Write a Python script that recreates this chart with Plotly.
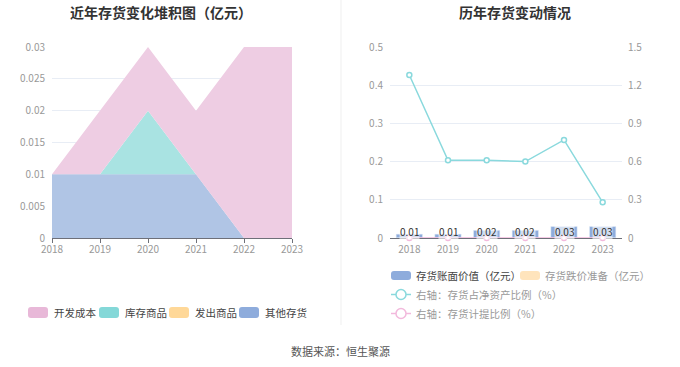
import plotly.graph_objects as go

W, H = 680, 367
years = ["2018", "2019", "2020", "2021", "2022", "2023"]

# Left: stacked inventory composition (亿元)
dev_cost = [0.0, 0.01, 0.01, 0.01, 0.03, 0.03]      # 开发成本
stock_goods = [0.0, 0.0, 0.01, 0.0, 0.0, 0.0]       # 库存商品
shipped_goods = [0.0, 0.0, 0.0, 0.0, 0.0, 0.0]      # 发出商品
other_inv = [0.01, 0.01, 0.01, 0.01, 0.0, 0.0]      # 其他存货

# Right: inventory changes
book_value = [0.01, 0.01, 0.02, 0.02, 0.03, 0.03]   # 存货账面价值（亿元）
impairment = [0, 0, 0, 0, 0, 0]                     # 存货跌价准备（亿元）
inv_ratio = [1.28, 0.61, 0.61, 0.60, 0.77, 0.28]    # 存货占净资产比例（%）
provision_ratio = [0, 0, 0, 0, 0, 0]                # 存货计提比例（%）
bar_labels = ["0.01", "0.01", "0.02", "0.02", "0.03", "0.03"]

left_names = ["开发成本", "库存商品", "发出商品", "其他存货"]
right_bar_names = ["存货账面价值（亿元）", "存货跌价准备（亿元）"]
right_line_names = ["右轴：存货占净资产比例（%）", "右轴：存货计提比例（%）"]

FONT = "Noto Sans CJK SC"
C_PINK, C_TEAL, C_ORANGE, C_BLUE = "#e8b8d8", "#84d8d8", "#ffd898", "#8eacdc"
FILL = {"开发成本": "#eecde3", "库存商品": "#a9e3e2", "发出商品": "#ffe4bc", "其他存货": "#b0c5e5"}
SWATCH = {"开发成本": C_PINK, "库存商品": C_TEAL, "发出商品": C_ORANGE, "其他存货": C_BLUE}
LINE_TEAL, LINE_PINK = "#8ad9dd", "#f2b9dc"

fig = go.Figure()

def px(x):
    return x / W

def py(y):
    return 1 - y / H

left_data = {"开发成本": dev_cost, "库存商品": stock_goods, "发出商品": shipped_goods, "其他存货": other_inv}
for name in ["其他存货", "库存商品", "发出商品", "开发成本"]:
    fig.add_trace(go.Scatter(
        x=years, y=left_data[name], name=name, stackgroup="one", mode="lines",
        line=dict(width=0, color=SWATCH[name]), fillcolor=FILL[name],
        xaxis="x", yaxis="y", showlegend=False,
    ))

fig.add_trace(go.Bar(
    x=years, y=book_value, name=right_bar_names[0], marker_color=C_BLUE,
    width=0.68, xaxis="x2", yaxis="y2", showlegend=False,
))
fig.add_trace(go.Bar(
    x=years, y=impairment, name=right_bar_names[1], marker_color="#ffe4bc",
    width=0.68, xaxis="x2", yaxis="y2", showlegend=False,
))
fig.add_trace(go.Scatter(
    x=years, y=inv_ratio, name=right_line_names[0], mode="lines+markers",
    line=dict(color=LINE_TEAL, width=1.5), cliponaxis=False,
    marker=dict(symbol="circle", size=5, color="white", line=dict(color=LINE_TEAL, width=1.5)),
    xaxis="x2", yaxis="y3", showlegend=False,
))
fig.add_trace(go.Scatter(
    x=years, y=provision_ratio, name=right_line_names[1], mode="lines+markers",
    line=dict(color=LINE_PINK, width=1.5), cliponaxis=False,
    marker=dict(symbol="circle", size=5, color="white", line=dict(color=LINE_PINK, width=1.5)),
    xaxis="x2", yaxis="y3", showlegend=False,
))

annotations = []
for i, lab in enumerate(bar_labels):
    annotations.append(dict(
        x=i, y=0.033, xref="x2", yref="y2 domain", text=lab, showarrow=False,
        xanchor="center", yanchor="middle", font=dict(size=10, color="#333", family=FONT),
        bgcolor="rgba(255,255,255,0.6)", borderpad=0,
    ))

def rrect(x0, y0, x1, y1, r=3):
    X0, X1 = px(x0), px(x1)
    Y0, Y1 = py(y0), py(y1)
    rx, ry = r / W, r / H
    return (f"M{X0+rx},{Y0} L{X1-rx},{Y0} Q{X1},{Y0} {X1},{Y0-ry} "
            f"L{X1},{Y1+ry} Q{X1},{Y1} {X1-rx},{Y1} L{X0+rx},{Y1} "
            f"Q{X0},{Y1} {X0},{Y1+ry} L{X0},{Y0-ry} Q{X0},{Y0} {X0+rx},{Y0} Z")

shapes = [dict(type="line", xref="paper", yref="paper", x0=px(341), x1=px(341),
               y0=1, y1=py(325), line=dict(color="#efefef", width=1))]

# Left legend (manual)
lx = [28, 99, 169, 239]
for x0, name in zip(lx, left_names):
    shapes.append(dict(type="path", xref="paper", yref="paper", path=rrect(x0, 307, x0 + 20, 318),
                       fillcolor=SWATCH[name], line=dict(width=0)))
    annotations.append(dict(text=name, x=px(x0 + 24), y=py(312.5), xref="paper", yref="paper",
                            showarrow=False, xanchor="left", yanchor="middle",
                            font=dict(size=10.5, color="#444", family=FONT)))

# Right legend (manual)
bar_sw = [(391, C_BLUE, "#444"), (520, "#ffe4bc", "#999")]
for (x0, col, tcol), name in zip(bar_sw, right_bar_names):
    shapes.append(dict(type="path", xref="paper", yref="paper", path=rrect(x0, 271, x0 + 20, 280),
                       fillcolor=col, line=dict(width=0)))
    annotations.append(dict(text=name, x=px(x0 + 23), y=py(275.5), xref="paper", yref="paper",
                            showarrow=False, xanchor="left", yanchor="middle",
                            font=dict(size=10.5, color=tcol, family=FONT)))
for yc, col, name in [(294.5, LINE_TEAL, right_line_names[0]), (313.5, LINE_PINK, right_line_names[1])]:
    shapes.append(dict(type="line", xref="paper", yref="paper", x0=px(391), x1=px(411),
                       y0=py(yc), y1=py(yc), line=dict(color=col, width=1.5)))
    shapes.append(dict(type="circle", xref="paper", yref="paper", x0=px(396), x1=px(406),
                       y0=py(yc - 5), y1=py(yc + 5), fillcolor="white", line=dict(color=col, width=1.5)))
    annotations.append(dict(text=name, x=px(414), y=py(yc), xref="paper", yref="paper",
                            showarrow=False, xanchor="left", yanchor="middle",
                            font=dict(size=10.5, color="#999", family=FONT)))

annotations += [
    dict(text="<b>近年存货变化堆积图（亿元）</b>", x=px(161), y=py(12), xref="paper",
         yref="paper", showarrow=False, xanchor="center", yanchor="middle",
         font=dict(size=14, color="#333", family=FONT)),
    dict(text="<b>历年存货变动情况</b>", x=px(515), y=py(12), xref="paper",
         yref="paper", showarrow=False, xanchor="center", yanchor="middle",
         font=dict(size=14, color="#333", family=FONT)),
    dict(text="数据来源：恒生聚源", x=px(340), y=py(351), xref="paper", yref="paper",
         showarrow=False, xanchor="center", yanchor="middle",
         font=dict(size=11, color="#555", family=FONT)),
]

ydom = [py(238), py(47)]
tick_font = dict(size=10, color="#999", family=FONT)
grid = "#e8edf5"

fig.update_layout(
    width=W, height=H, margin=dict(l=0, r=0, t=0, b=0, autoexpand=False),
    paper_bgcolor="white", plot_bgcolor="white",
    font=dict(family=FONT), showlegend=False,
    barmode="overlay",
    xaxis=dict(domain=[px(52), px(292)], type="category", range=[0, 5],
               showgrid=False, showline=True, linecolor="#6e7079", ticks="outside",
               ticklen=4, tickcolor="#6e7079", tickfont=tick_font, automargin=False,
               ticklabelstandoff=-2),
    yaxis=dict(domain=ydom, range=[0, 0.03], dtick=0.005, showgrid=True, gridcolor=grid,
               zeroline=False, tickfont=tick_font, ticklabelstandoff=6, tickformat="~g",
               automargin=False),
    xaxis2=dict(domain=[px(390), px(622)], type="category", range=[-0.5, 5.5],
                showgrid=False, showline=True, linecolor="#6e7079", ticks="",
                tickfont=tick_font, anchor="y2", automargin=False, ticklabelstandoff=2,
                layer="below traces"),
    yaxis2=dict(domain=ydom, range=[0, 0.5], dtick=0.1, showgrid=True, gridcolor=grid,
                zeroline=False, tickfont=tick_font, ticklabelstandoff=6, anchor="x2",
                tickformat="~g", automargin=False),
    yaxis3=dict(domain=ydom, range=[0, 1.5], dtick=0.3, showgrid=False, zeroline=False,
                overlaying="y2", side="right", anchor="x2", tickfont=tick_font,
                ticklabelstandoff=5, tickformat="~g", automargin=False),
    shapes=shapes,
    annotations=annotations,
)

fig.write_html("out.html", config={"displayModeBar": False},
               post_script="document.body.style.margin='0';document.body.style.overflow='hidden';")
